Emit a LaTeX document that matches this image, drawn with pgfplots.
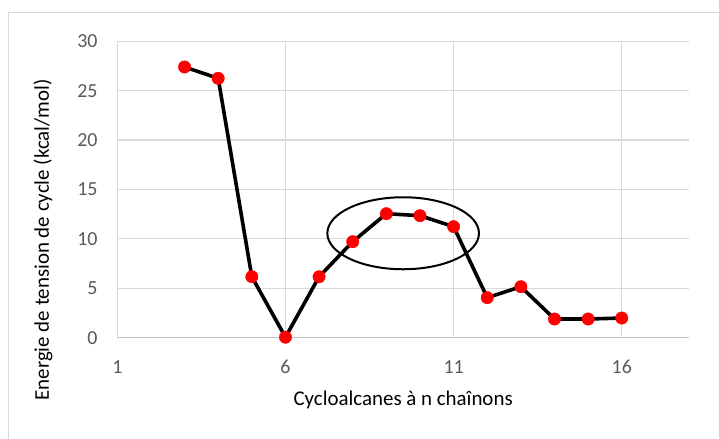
\documentclass[border=0pt]{standalone}
\usepackage{fontspec}
\setmainfont{Carlito}
\usepackage{pgfplots}
\pgfplotsset{compat=1.18}
\definecolor{gridgray}{HTML}{D9D9D9}
\definecolor{axisgray}{HTML}{BFBFBF}
\definecolor{ticktext}{HTML}{595959}
\definecolor{markred}{HTML}{FF0000}

\begin{document}
\begin{tikzpicture}[x=1bp,y=1bp]
\useasboundingbox (0,0) rectangle (719,439);
% chart frame
\begin{scope}
\clip (0,0) rectangle (719,439);
\draw[gridgray, line width=1bp] (8.7,-20) -- (8.7,426.3) -- (740,426.3);
\end{scope}
\begin{axis}[
  at={(117.3bp,101.3bp)}, anchor=south west,
  width=571.7bp, height=296.4bp, scale only axis,
  xmin=1, xmax=18, ymin=0, ymax=30,
  xtick={1,6,11,16}, ytick={0,5,...,30},
  axis x line*=bottom, axis y line*=left,
  x axis line style={axisgray, line width=1.2bp, -},
  y axis line style={draw=none},
  major tick length=0pt,
  grid=major,
  major grid style={gridgray, line width=1.2bp},
  /pgf/number format/assume math mode=true,
  tick label style={font=\fontsize{20}{22}\selectfont, text=ticktext},
  yticklabel style={anchor=east, inner sep=0pt, xshift=-19.6bp},
  xticklabel style={anchor=north, inner sep=0pt, yshift=-22.3bp},
  label style={font=\fontsize{21}{24}\selectfont, text=black},
  xlabel={Cycloalcanes à n chaînons},
  ylabel={Energie de tension de cycle (kcal/mol)},
  xlabel style={at={(axis description cs:0.5,-0.2304)}, anchor=base, inner sep=0pt},
  ylabel style={at={(axis description cs:-0.1195,0.33)}, anchor=base, rotate=0, inner sep=0pt},
  clip=false,
]
\addplot[black, line width=3.6bp, mark=*, mark size=6.2bp,
  mark options={fill=markred, draw=markred, line width=0.4bp}]
  coordinates {
    (3,27.4) (4,26.25) (5,6.17) (6,0.05) (7,6.17) (8,9.72)
    (9,12.55) (10,12.35) (11,11.24) (12,4.05) (13,5.16)
    (14,1.89) (15,1.89) (16,1.99)
  };
\draw[black, line width=2bp] (axis cs:9.5,10.57) ellipse [x radius=75.8bp, y radius=36bp];
\end{axis}
\end{tikzpicture}
\end{document}
